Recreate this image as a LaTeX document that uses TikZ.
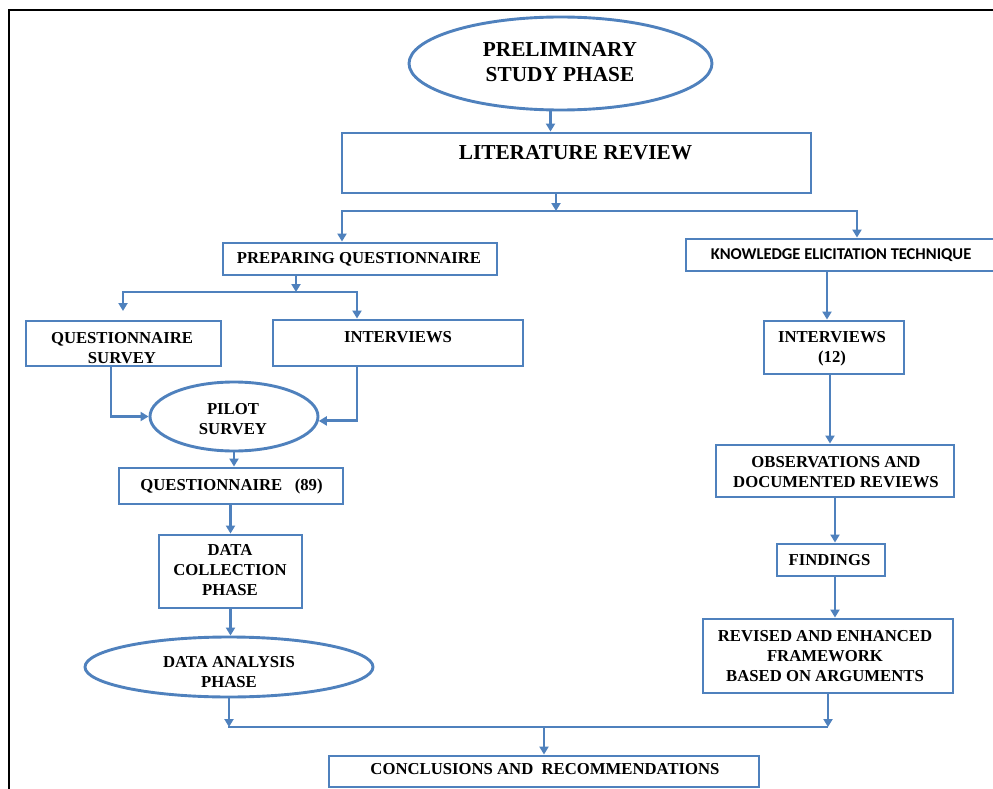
\documentclass[tikz,border=0pt]{standalone}
\usepackage{fontspec}
\setmainfont{Liberation Serif}
\newfontfamily\ketfont{Carlito}
\usetikzlibrary{arrows.meta,fit,shapes.geometric}
\definecolor{flowblue}{RGB}{79,129,189}
\begin{document}
\begin{tikzpicture}[x=1pt,y=-1pt,
  boxline/.style={draw=flowblue, line width=2.9pt, inner sep=0pt},
  ell/.style={ellipse, draw=flowblue, line width=2.9pt, inner sep=0pt},
  lbl/.style={font=\bfseries\fontsize{16.7}{20}\selectfont, align=center, inner sep=0pt},
  biglbl/.style={font=\bfseries\fontsize{21.3}{25}\selectfont, align=center, inner sep=0pt},
  wire/.style={draw=flowblue, line width=2.9pt},
  arr/.style={wire, -{Triangle[length=8pt,width=9pt]}},
  dbl/.style={wire, {Triangle[length=8pt,width=9pt]}-{Triangle[length=8pt,width=9pt]}},
]
\useasboundingbox (0,0) rectangle (993,789);
\clip (0,0) rectangle (993,789);
\fill[white] (0,0) rectangle (993,789);

% outer frame
\draw[black, line width=2.2pt] (9,10) rectangle (1010,800);

% shapes
\node[ell, minimum width=303pt, minimum height=93pt] (prelim) at (560.5,63.5) {};
\node[boxline, fit={(342,133) (811,193)}] (lr) {};
\node[boxline, fit={(223,243) (497,275)}] (prep) {};
\node[boxline, fit={(686,239) (1010,271)}] (ket) {};
\node[boxline, fit={(26,321) (221,366)}] (qs) {};
\node[boxline, fit={(273,320) (523,366)}] (intv) {};
\node[ell, minimum width=168pt, minimum height=69pt] (pilot) at (234,416.5) {};
\node[boxline, fit={(119,468) (343,504)}] (q89) {};
\node[boxline, fit={(159,535) (302,608)}] (dcp) {};
\node[ell, minimum width=288pt, minimum height=60pt] (dap) at (229,667) {};
\node[boxline, fit={(329,756) (759,787)}] (concl) {};
\node[boxline, fit={(764,321) (904,374)}] (int12) {};
\node[boxline, fit={(716,445) (954,497)}] (obs) {};
\node[boxline, fit={(777,544) (885,576)}] (find) {};
\node[boxline, fit={(703,619) (953,693)}] (rev) {};

% texts
\node[biglbl] (prelim-t) at (560,62.5) {PRELIMINARY\\STUDY PHASE};
\node[biglbl] (lr-t) at (575.5,153) {LITERATURE REVIEW};
\node[lbl] (prep-t) at (359,259) {PREPARING QUESTIONNAIRE};
\node[inner sep=0pt, font=\ketfont\bfseries\fontsize{16.5}{20}\selectfont] (ket-t) at (841,255) {KNOWLEDGE ELICITATION TECHNIQUE};
\node[lbl] (qs-t) at (122,348) {QUESTIONNAIRE\\SURVEY};
\node[lbl] (intv-t) at (398,337) {INTERVIEWS};
\node[lbl] (pilot-t) at (233,419) {PILOT\\SURVEY};
\node[lbl] (q89-t) at (231.5,486) {QUESTIONNAIRE\ \ \ (89)};
\node[lbl] (dcp-t) at (230,570.5) {DATA\\COLLECTION\\PHASE};
\node[lbl] (dap-t) at (229,672.5) {DATA ANALYSIS\\PHASE};
\node[lbl] (concl-t) at (545,769) {CONCLUSIONS AND\ \ RECOMMENDATIONS};
\node[lbl] (int12-t) at (832,348.5) {INTERVIEWS\\(12)};
\node[lbl] (obs-t) at (836,472) {OBSERVATIONS AND\\DOCUMENTED REVIEWS};
\node[lbl] (find-t) at (829.5,560) {FINDINGS};
\node[lbl] (rev-t) at (825,656) {REVISED AND ENHANCED\\FRAMEWORK\\BASED ON ARGUMENTS};

% junctions and lanes
\coordinate (j1) at (556,211);
\coordinate (j1l) at (342,211);
\coordinate (j1r) at (857,211);
\coordinate (j2) at (296,292);
\coordinate (j2l) at (123,292);
\coordinate (j2r) at (357,292);
\coordinate (qsin) at (123,311);
\coordinate (lqs) at (111,0);
\coordinate (lint) at (357,0);
\coordinate (j3l) at (228,727);
\coordinate (j3r) at (828,727);
\coordinate (r1) at (827,0);
\coordinate (r2) at (830,0);
\coordinate (r3) at (835,0);

% connectors, left branch
\draw[arr] ([xshift=-10pt]prelim.south) -- ([xshift=-10pt]prelim.south |- lr.north);
\draw[arr] (lr.south -| j1) -- (j1);
\draw[dbl] (j1l |- prep.north) -- (j1l) -- (j1r) -- (j1r |- ket.north);
\draw[arr] (prep.south -| j2) -- (j2);
\draw[dbl] (qsin) -- (j2l) -- (j2r) -- (j2r |- intv.north);
\draw[arr] (qs.south -| lqs) |- (pilot.west);
\draw[arr] (intv.south -| lint) |- (pilot.-3);
\draw[arr] (pilot.south) -- (pilot.south |- q89.north);
\draw[arr] (q89.south -| dcp.north) -- (dcp.north);
\draw[arr] (dcp.south) -- (dcp.south |- dap.north);
\draw[arr] (dap.south) -- (dap.south |- j3l);
\draw[wire] (j3l) -- (j3r);
\draw[arr] (j3l -| concl.north) -- (concl.north);

% connectors, right branch
\draw[arr] (ket.south -| r1) -- (int12.north -| r1);
\draw[arr] (int12.south -| r2) -- (obs.north -| r2);
\draw[arr] (obs.south -| r3) -- (find.north -| r3);
\draw[arr] (find.south -| r3) -- (rev.north -| r3);
\draw[arr] (rev.south) -- (rev.south |- j3r);
\end{tikzpicture}
\end{document}
